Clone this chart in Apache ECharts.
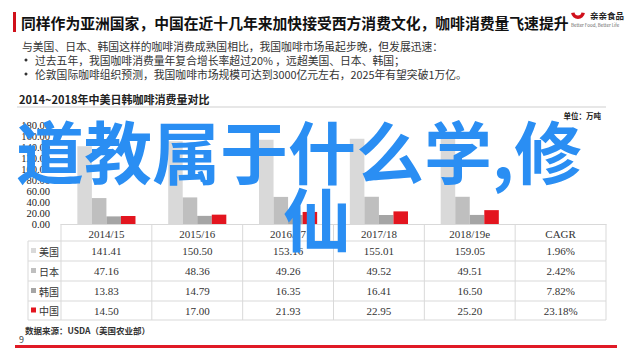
<!DOCTYPE html>
<html><head><meta charset="utf-8">
<script src="https://cdn.jsdelivr.net/npm/echarts@6/dist/echarts.min.js"></script>
<style>html,body{margin:0;padding:0;background:#fff}#c{width:640px;height:359px}</style>
</head><body><div id="c"></div>
<script>
// ---- data ----
const categories = ['2014/15', '2015/16', '2016/17', '2017/18', '2018/19e', 'CAGR'];
const seriesNames = ['美国', '日本', '韩国', '中国'];
const usa   = [141.41, 150.50, 153.16, 155.01, 159.05];
const japan = [47.16, 48.36, 49.26, 49.52, 49.51];
const korea = [13.83, 14.79, 16.35, 16.41, 16.50];
const china = [14.50, 17.00, 21.93, 22.95, 25.20];
const cagr  = ['1.96%', '2.42%', '7.82%', '23.18%'];
const yMax = 180, yStep = 20;

const titleText = '同样作为亚洲国家，中国在近十几年来加快接受西方消费文化，咖啡消费量飞速提升';
const bodyLines = [
  '与美国、日本、韩国这样的咖啡消费成熟国相比，我国咖啡市场虽起步晚，但发展迅速：',
  '过去五年，我国咖啡消费量年复合增长率超过20% ，远超美国、日本、韩国；',
  '伦敦国际咖啡组织预测，我国咖啡市场规模可达到3000亿元左右，2025年有望突破1万亿。'
];
const chartTitle = '2014~2018年中美日韩咖啡消费量对比';
const unitText = '单位：万吨';
const sourceText = '数据来源：USDA（美国农业部）';
const pageNo = '9';
const overlayLine1 = '道教属于什么学,修';
const overlayLine2 = '仙';

// ---- style ----
const colors = ['#d9d9d9', '#bfbfbf', '#a5a5a5', '#e3151f'];
const SERIF = '"Liberation Serif", "Noto Sans CJK SC", serif';
const SANS = '"Noto Sans CJK SC", sans-serif';
const lineCol = '#d9d9d9';

const chart = echarts.init(document.getElementById('c'), null, { renderer: 'svg' });
const allSeries = [usa, japan, korea, china];

chart.setOption({
  backgroundColor: '#fff',
  animation: false,
  grid: { left: 61, right: 34, top: 125, bottom: 135 },
  xAxis: {
    type: 'category', data: categories,
    axisLine: { show: true, lineStyle: { color: lineCol } },
    axisTick: { show: false },
    axisLabel: { margin: 4, fontFamily: SERIF, fontSize: 11, color: '#333' }
  },
  yAxis: {
    type: 'value', min: 0, max: yMax, interval: yStep,
    axisLine: { show: false }, axisTick: { show: false }, splitLine: { show: false },
    axisLabel: { margin: 11, fontFamily: SERIF, fontSize: 10.5, color: '#222', formatter: v => v.toFixed(2) }
  },
  series: allSeries.map((d, i) => ({
    type: 'bar', name: seriesNames[i], data: d,
    barGap: '0%', barCategoryGap: '36%',
    itemStyle: { color: colors[i] }
  }))
});

// ---- table & decorations ----
const g = [];
const colCenters = categories.map((c, i) => chart.convertToPixel({ xAxisIndex: 0 }, i));
const colW = colCenters[1] - colCenters[0];
const tLeft = colCenters[0] - colW / 2, tRight = colCenters[colCenters.length - 1] + colW / 2;
const labelLeft = 28;
const headTop = chart.convertToPixel({ yAxisIndex: 0 }, 0);
const rowYs = [241, 261, 281, 301, 320];

rowYs.forEach(y => g.push({ type: 'line', shape: { x1: labelLeft, y1: y, x2: tRight, y2: y }, style: { stroke: lineCol, lineWidth: 1 } }));
g.push({ type: 'line', shape: { x1: labelLeft, y1: rowYs[0], x2: labelLeft, y2: rowYs[4] }, style: { stroke: lineCol, lineWidth: 1 } });
for (let i = 0; i <= categories.length; i++) {
  const x = tLeft + i * colW;
  g.push({ type: 'line', shape: { x1: x, y1: headTop, x2: x, y2: rowYs[4] }, style: { stroke: lineCol, lineWidth: 1 } });
}
const rowData = [usa, japan, korea, china];
rowData.forEach((arr, r) => {
  const cy = (rowYs[r] + rowYs[r + 1]) / 2;
  g.push({ type: 'rect', shape: { x: 31, y: cy - 3, width: 5, height: 5 }, style: { fill: colors[r] } });
  g.push({ type: 'text', x: 39, y: cy, style: { text: seriesNames[r], font: '10px ' + SANS, fill: '#333', verticalAlign: 'middle' } });
  arr.forEach((v, c) => {
    g.push({ type: 'text', x: colCenters[c], y: cy, style: { text: v.toFixed(2), font: '11px ' + SERIF, fill: '#333', align: 'center', verticalAlign: 'middle' } });
  });
  g.push({ type: 'text', x: colCenters[5], y: cy, style: { text: cagr[r], font: '11px ' + SERIF, fill: '#333', align: 'center', verticalAlign: 'middle' } });
});

// header area
g.push({ type: 'rect', shape: { x: 13, y: 12, width: 3, height: 20 }, style: { fill: '#d0101b' } });
g.push({ type: 'text', x: 21, y: 22, style: { text: titleText, font: 'bold 14.8px ' + SANS, fill: '#111', verticalAlign: 'middle' } });
g.push({ type: 'sector', shape: { cx: 578, cy: 12, r: 7, r0: 3.5, startAngle: 0.15, endAngle: Math.PI - 0.15 }, style: { fill: '#d0101b' } });
g.push({ type: 'text', x: 590, y: 15, style: { text: '亲亲食品', font: 'bold 8.5px ' + SANS, fill: '#222', verticalAlign: 'middle' } });
g.push({ type: 'text', x: 571, y: 25, style: { text: 'Better Food, Better Life', font: '4.5px ' + SANS, fill: '#666', verticalAlign: 'middle' } });
g.push({ type: 'text', x: 22, y: 46, style: { text: bodyLines[0], font: '10.8px ' + SANS, fill: '#333', verticalAlign: 'middle' } });
[1, 2].forEach((k, j) => {
  const y = 60 + j * 14;
  g.push({ type: 'circle', shape: { cx: 26, cy: y, r: 1.5 }, style: { fill: '#333' } });
  g.push({ type: 'text', x: 35, y: y, style: { text: bodyLines[k], font: '10.8px ' + SANS, fill: '#333', verticalAlign: 'middle' } });
});
g.push({ type: 'text', x: 19, y: 99, style: { text: chartTitle, font: 'bold 11px ' + SANS, fill: '#222', verticalAlign: 'middle' } });
g.push({ type: 'line', shape: { x1: 17, y1: 107, x2: 606, y2: 107 }, style: { stroke: '#cfcfcf', lineWidth: 1 } });
g.push({ type: 'text', x: 601, y: 115, style: { text: unitText, font: 'bold 7.5px ' + SANS, fill: '#222', align: 'right', verticalAlign: 'middle' } });
g.push({ type: 'text', x: 25, y: 330, style: { text: sourceText, font: 'bold 8.5px ' + SANS, fill: '#333', verticalAlign: 'middle' } });
g.push({ type: 'text', x: 19, y: 339, style: { text: pageNo, font: '9px ' + SANS, fill: '#444', verticalAlign: 'middle' } });
g.push({ type: 'rect', shape: { x: 15, y: 345, width: 602, height: 3 }, style: { fill: '#e01a26' } });

// overlay
g.push({ type: 'text', z: 100, x: 16, y: 115, style: { text: overlayLine1, font: 'bold 68px ' + SANS, fill: '#2a8ef3', verticalAlign: 'top' } });
g.push({ type: 'text', z: 100, x: 283, y: 182, style: { text: overlayLine2, font: 'bold 68px ' + SANS, fill: '#2a8ef3', verticalAlign: 'top' } });

chart.setOption({ graphic: { elements: g } });
</script>
</body></html>
